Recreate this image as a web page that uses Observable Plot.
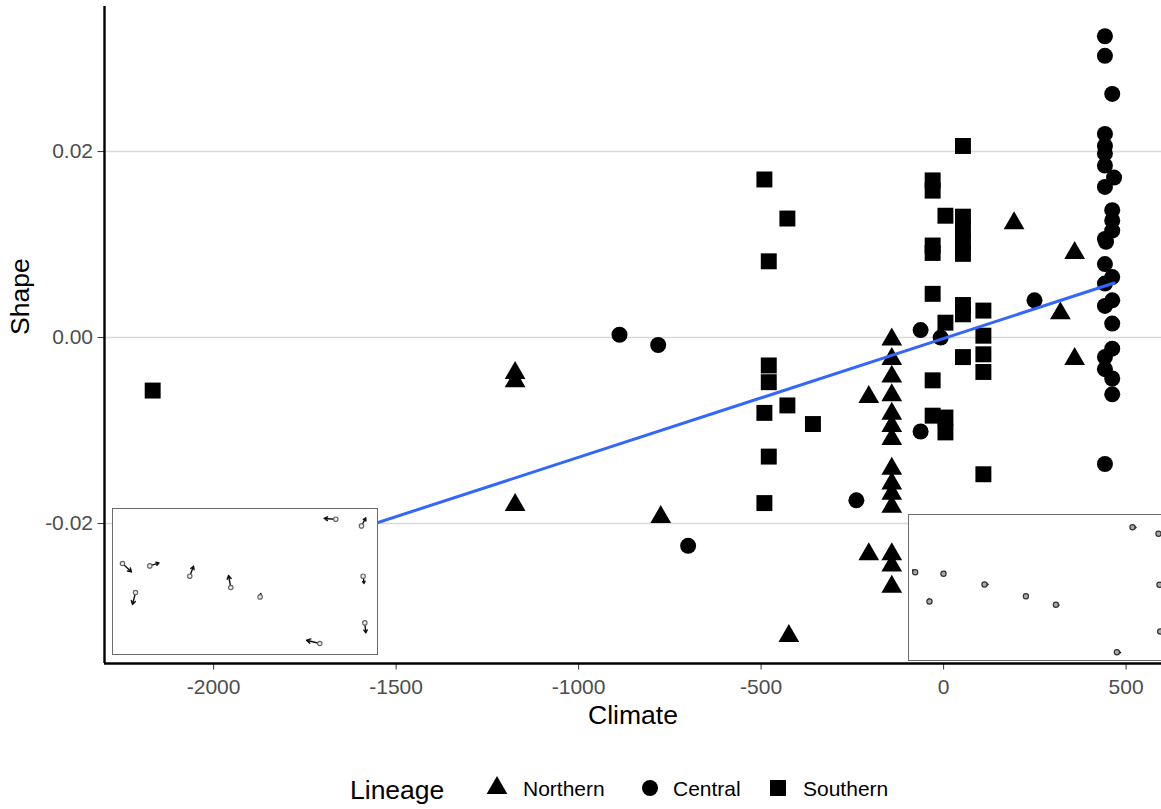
<!DOCTYPE html>
<html>
<head>
<meta charset="utf-8">
<script src="https://cdn.jsdelivr.net/npm/d3@7"></script>
<script src="https://cdn.jsdelivr.net/npm/@observablehq/plot@0.6"></script>
<style>
  body { margin: 0; background: #fff; overflow: hidden; font-family: "Liberation Sans", Arial, sans-serif; }
  #wrap { position: relative; width: 1161px; height: 809px; overflow: hidden; background: #fff; }
  .lg-text { position: absolute; white-space: nowrap; color: #000; line-height: 1; }
</style>
</head>
<body>
<div id="wrap"></div>
<script>
// ---------------- DATA ----------------
const xTicks = [-2000, -1500, -1000, -500, 0, 500];
const yTicks = [-0.02, 0, 0.02];
const xLabel = "Climate";
const yLabel = "Shape";
const legendTitle = "Lineage";
const lineages = ["Northern", "Central", "Southern"];

const northernClimate = [-1174, -1174, -1174, -775, -424, -205, -205,
  -142, -142, -142, -142, -142, -142, -142, -142, -142, -142, -142, -142, -142, -142,
  193, 320, 359, 359];
const northernShape = [-0.0038, -0.0047, -0.0180, -0.0193, -0.0321, -0.0064, -0.0233,
  -0.0002, -0.0023, -0.0042, -0.0062, -0.0082, -0.0095, -0.0109, -0.0141, -0.0157, -0.0168, -0.0182, -0.0233, -0.0245, -0.0268,
  0.0123, 0.0026, 0.0091, -0.0023];

const centralClimate = [-888, -782, -700, -239, -63, -63, -8, 249,
  442, 442, 442, 442, 442, 442, 442, 442, 445, 442, 442, 442, 442, 442, 442,
  462, 462, 462, 462, 462, 462, 462, 462, 462, 462, 467];
const centralShape = [0.0003, -0.0008, -0.0224, -0.0175, 0.0008, -0.0101, 0.0000, 0.0040,
  0.0324, 0.0303, 0.0219, 0.0206, 0.0198, 0.0185, 0.0162, 0.0106, 0.0103, 0.0079, 0.0058, 0.0034, -0.0021, -0.0034, -0.0136,
  0.0262, 0.0137, 0.0126, 0.0115, 0.0065, 0.0040, 0.0015, -0.0012, -0.0044, -0.0061, 0.0172];

const southernClimate = [-2167,
  -491, -491, -491,
  -479, -479, -479, -479,
  -428, -428, -358,
  -30, -30, -30, -30, -30, -30, -30,
  5, 5, 5, 5,
  53, 53, 53, 53, 53, 53, 53, 53,
  109, 109, 109, 109, 109];
const southernShape = [-0.0057,
  0.0170, -0.0081, -0.0178,
  0.0082, -0.0030, -0.0048, -0.0128,
  0.0128, -0.0073, -0.0093,
  0.0169, 0.0158, 0.0099, 0.0091, 0.0047, -0.0046, -0.0084,
  0.0131, 0.0016, -0.0086, -0.0102,
  0.0206, 0.0130, 0.0117, 0.0103, 0.0090, 0.0035, 0.0025, -0.0021,
  0.0029, 0.0002, -0.0018, -0.0037, -0.0147];

// Fitted linear trend (Shape = intercept + slope * Climate)
const fitIntercept = -0.0001;
const fitSlope = 0.00001277;

// Inset landmark displacement diagrams (inset-local coordinates)
const leftInsetFromX = [10, 37.3, 77.3, 118.3, 147.6, 23, 223.3, 249, 250.6, 252.3, 207.3];
const leftInsetFromY = [55, 57.4, 67.7, 79, 88.4, 84, 10.7, 17.4, 67.7, 114.4, 135];
const leftInsetToX   = [19, 46.6, 81, 116, 148.3, 20, 211.6, 253.3, 251.6, 253.3, 194];
const leftInsetToY   = [63.4, 54.4, 57.7, 67, 85, 96, 10, 9.4, 75, 124.4, 131.7];

const rightInsetFromX = [6.7, 35, 76, 21, 117.4, 147.4, 224, 250, 251, 251.7, 208.4];
const rightInsetFromY = [57.7, 59.3, 70, 87, 81.7, 90.3, 12.7, 19.3, 70.3, 117, 137.7];
const rightInsetToX   = [4.2, 36.5, 79.5, 20.5, 118.5, 150.5, 227.5, 253.5, 254, 253.5, 212];
const rightInsetToY   = [55.5, 57, 70, 84.5, 84, 90.5, 13, 19.5, 70, 115.5, 138];

// ---------------- BUILD ----------------
const toRows = (xs, ys, lin) => xs.map((x, i) => ({climate: x, shape: ys[i], lineage: lin}));
const northern = toRows(northernClimate, northernShape, lineages[0]);
const central = toRows(centralClimate, centralShape, lineages[1]);
const southern = toRows(southernClimate, southernShape, lineages[2]);
const all = [...northern, ...central, ...southern];
const fitRows = d3.extent(all, d => d.climate).map(x => ({climate: x, shape: fitIntercept + fitSlope * x}));

const xDomain = [-2299, 597];
const yDomain = [-0.03505, 0.0356];
const FONT = "'Liberation Sans', Arial, sans-serif";
const symR = {triangle: 7.7, circle: 8, square: 9};

const wrap = document.getElementById("wrap");

const chart = Plot.plot({
  width: 1161,
  height: 745,
  marginLeft: 104,
  marginRight: 0,
  marginTop: 6,
  marginBottom: 82,
  x: {domain: xDomain},
  y: {domain: yDomain},
  style: {fontFamily: FONT, background: "white", overflow: "visible"},
  marks: [
    Plot.gridY(yTicks, {stroke: "#d9d9d9", strokeOpacity: 1, strokeWidth: 1.6}),
    Plot.axisY(yTicks, {tickSize: 6.5, tickPadding: 5, fontSize: 21, fill: "#4d4d4d", stroke: "#333",
      tickFormat: d => d.toFixed(2), label: null}),
    Plot.axisX(xTicks, {tickSize: 6.5, tickPadding: 9, fontSize: 21, fill: "#4d4d4d", stroke: "#333",
      tickFormat: d => String(d), label: null}),
    Plot.ruleX([xDomain[0]], {stroke: "black", strokeWidth: 2.4}),
    Plot.ruleY([yDomain[0]], {stroke: "black", strokeWidth: 2.4}),
    Plot.dot(northern, {x: "climate", y: "shape", symbol: "triangle", r: symR.triangle, fill: "black"}),
    Plot.dot(central, {x: "climate", y: "shape", symbol: "circle", r: symR.circle, fill: "black"}),
    Plot.dot(southern, {x: "climate", y: "shape", symbol: "square", r: symR.square, fill: "black"}),
    Plot.line(fitRows, {x: "climate", y: "shape", stroke: "#3366FF", strokeWidth: 3}),
    Plot.text([xLabel], {text: d => d, frameAnchor: "bottom", dy: 60, fontSize: 26.5, fill: "black"}),
    Plot.text([yLabel], {text: d => d, frameAnchor: "left", dx: -84, rotate: -90, fontSize: 26.5, fill: "black"})
  ]
});
chart.style.position = "absolute";
chart.style.left = "0px";
chart.style.top = "0px";
wrap.appendChild(chart);

function makeInset(fx, fy, tx, ty, left, top, headLen, sw, dotR, dotStroke, dotFill) {
  const rows = fx.map((x, i) => ({x1: x, y1: fy[i], x2: tx[i], y2: ty[i]}));
  const p = Plot.plot({
    width: 267, height: 148, margin: 1,
    x: {domain: [0, 265], axis: null},
    y: {domain: [0, 146], reverse: true, axis: null},
    style: {background: "transparent", overflow: "visible"},
    marks: [
      Plot.frame({fill: "white", stroke: "#6b6b6b", strokeWidth: 1}),
      Plot.arrow(rows, {x1: "x1", y1: "y1", x2: "x2", y2: "y2", headLength: headLen, strokeWidth: sw, stroke: "#111"}),
      Plot.dot(rows, {x: "x1", y: "y1", r: dotR, stroke: dotStroke, fill: dotFill, strokeWidth: 1.2})
    ]
  });
  p.style.position = "absolute";
  p.style.left = (left - 1) + "px";
  p.style.top = (top - 1) + "px";
  wrap.appendChild(p);
}
makeInset(leftInsetFromX, leftInsetFromY, leftInsetToX, leftInsetToY, 111.7, 508.3, 5, 1.4, 2.2, "#666", "#eee");
makeInset(rightInsetFromX, rightInsetFromY, rightInsetToX, rightInsetToY, 908.3, 514, 4, 1.5, 2.6, "#333", "#aaa");

// ---------------- LEGEND ----------------
function addText(txt, left, centerY, size) {
  const s = document.createElement("div");
  s.className = "lg-text";
  s.textContent = txt;
  s.style.fontSize = size + "px";
  s.style.fontFamily = FONT;
  s.style.left = left + "px";
  s.style.top = (centerY - size * 0.55) + "px";
  wrap.appendChild(s);
}
function addSymbol(type, cx, cy) {
  const ns = "http://www.w3.org/2000/svg";
  const svg = document.createElementNS(ns, "svg");
  svg.setAttribute("width", 30); svg.setAttribute("height", 30);
  svg.style.position = "absolute";
  svg.style.left = (cx - 15) + "px"; svg.style.top = (cy - 15) + "px";
  const r = symR[type];
  const sym = {triangle: d3.symbolTriangle, circle: d3.symbolCircle, square: d3.symbolSquare}[type];
  const path = document.createElementNS(ns, "path");
  path.setAttribute("d", d3.symbol(sym, r * r * Math.PI)());
  path.setAttribute("transform", "translate(15,15)");
  path.setAttribute("fill", "black");
  svg.appendChild(path);
  wrap.appendChild(svg);
}
addText(legendTitle, 350, 792, 26.5);
const legSymbols = ["triangle", "circle", "square"];
const legSymX = [497, 650, 778];
const legTextX = [523, 673, 803];
lineages.forEach((name, i) => {
  addSymbol(legSymbols[i], legSymX[i], 788);
  addText(name, legTextX[i], 790, 21);
});
</script>
</body>
</html>
